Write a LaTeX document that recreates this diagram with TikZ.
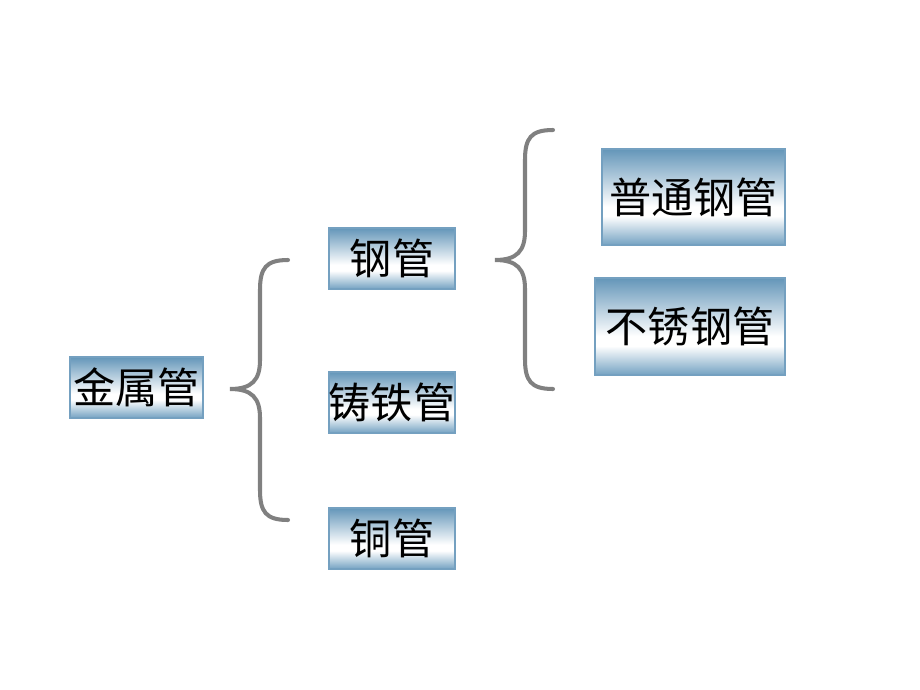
\documentclass[tikz,border=0pt]{standalone}
\usepackage{fontspec}
\newfontfamily\cjk{Noto Sans CJK SC}
\definecolor{boxblue}{HTML}{6496B9}
\definecolor{boxblueb}{HTML}{74A2C2}
\definecolor{bracegray}{HTML}{808080}
% 25bp is the bottom edge, 75bp the top edge
\pgfdeclareverticalshading{boxshade}{100bp}{%
  color(0bp)=(boxblueb); color(25bp)=(boxblueb);
  color(40bp)=(white); color(45bp)=(white);
  color(75bp)=(boxblue); color(100bp)=(boxblue)}
\begin{document}
\begin{tikzpicture}[x=0.02cm,y=-0.02cm,
  item/.style={draw=boxblue!90, line width=1.2pt, shading=boxshade,
    inner sep=0pt, font=\cjk\fontsize{24}{28}\selectfont, text=black},
  brace/.style={draw=bracegray, line width=2.3pt, line cap=round}]
\useasboundingbox (0,0) rectangle (920,690);
\node[item, minimum width=133*0.02cm, minimum height=61*0.02cm] (metal) at (136.5,387.5) {金属管};
\node[item, minimum width=126*0.02cm, minimum height=61*0.02cm] (steel) at (392,258.5) {钢管};
\node[item, minimum width=126*0.02cm, minimum height=61*0.02cm] (iron) at (392,402.5) {铸铁管};
\node[item, minimum width=126*0.02cm, minimum height=61*0.02cm] (copper) at (392,538.5) {铜管};
\node[item, minimum width=183*0.02cm, minimum height=96*0.02cm] (plain) at (693.5,197) {普通钢管};
\node[item, minimum width=190*0.02cm, minimum height=97*0.02cm] (stainless) at (690,326.5) {不锈钢管};
% left brace
\coordinate (b1top) at (288,260);
\coordinate (b1tip) at (230,389);
\coordinate (b1bot) at (288,520);
\draw[brace] (b1top) .. controls (266,260) and (260,268) .. (260,290)
  -- (260,360) .. controls (260,380) and (252,389) .. (b1tip)
  .. controls (252,389) and (260,398) .. (260,418)
  -- (260,490) .. controls (260,512) and (266,520) .. (b1bot);
% right brace
\coordinate (b2top) at (553,130);
\coordinate (b2tip) at (495,260);
\coordinate (b2bot) at (553,389);
\draw[brace] (b2top) .. controls (531,130) and (525,138) .. (525,160)
  -- (525,231) .. controls (525,251) and (517,260) .. (b2tip)
  .. controls (517,260) and (525,269) .. (525,289)
  -- (525,359) .. controls (525,381) and (531,389) .. (b2bot);
\end{tikzpicture}
\end{document}
